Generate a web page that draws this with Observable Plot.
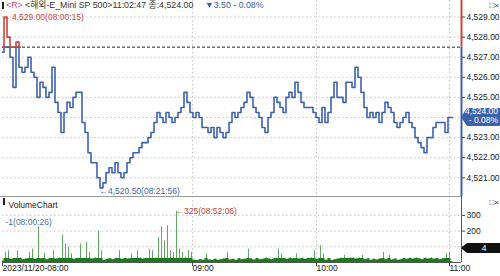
<!DOCTYPE html>
<html><head><meta charset="utf-8">
<script src="https://cdn.jsdelivr.net/npm/d3@7"></script>
<script src="https://cdn.jsdelivr.net/npm/@observablehq/plot@0.6"></script>
<style>
html,body{margin:0;padding:0;background:#fff;}
#wrap{position:relative;width:500px;height:276px;overflow:hidden;background:#fff;font-family:"Liberation Sans","Noto Sans CJK KR",sans-serif;}
#wrap svg{position:absolute;left:0;}
#hdr{position:absolute;top:0;left:2px;font-size:8.8px;line-height:10px;white-space:nowrap;color:#333;z-index:2;}
#chg{position:absolute;top:0;left:205px;font-size:8.8px;line-height:10px;white-space:nowrap;color:#3a5ea8;z-index:2;}
.mk{display:inline-block;width:2px;height:7px;background:#222;margin-right:2px;vertical-align:-1px;}
#sep{position:absolute;left:0;top:196px;width:461px;height:1px;background:#9a9a9a;z-index:2;}
</style></head><body><div id="wrap"></div><script>
// ---- data ----
const prices = [4527.25,4529.0,4528.0,4527.0,4525.5,4527.75,4526.5,4526.25,4526.5,4527.0,
4526.25,4526.0,4525.0,4525.75,4525.5,4525.0,4525.25,4526.5,4524.75,4524.25,
4523.25,4524.25,4524.75,4524.5,4525.0,4525.25,4525.25,4523.75,4523.25,4522.25,
4521.75,4521.75,4521.0,4520.5,4520.75,4521.25,4521.5,4521.25,4521.75,4521.25,
4521.0,4521.25,4521.75,4522.0,4522.25,4522.25,4522.5,4522.75,4522.75,4523.0,
4523.25,4523.75,4524.25,4524.0,4523.75,4524.25,4524.0,4523.75,4524.0,4524.25,
4524.5,4525.25,4524.75,4524.25,4524.0,4524.25,4524.0,4523.5,4523.5,4523.25,
4523.5,4523.0,4523.5,4523.25,4523.0,4523.25,4523.75,4524.25,4524.0,4524.25,
4524.5,4524.75,4525.25,4525.0,4524.5,4524.25,4524.0,4523.5,4523.25,4524.0,
4524.25,4525.0,4524.75,4524.5,4524.25,4525.0,4525.25,4525.0,4525.75,4525.25,
4524.75,4524.5,4524.5,4524.5,4524.25,4524.0,4523.75,4524.5,4523.75,4524.25,
4525.0,4525.75,4525.0,4525.0,4524.75,4525.75,4525.75,4525.5,4526.5,4526.0,
4525.25,4524.5,4524.0,4524.25,4524.0,4524.25,4523.75,4524.25,4524.75,4524.5,
4524.25,4523.75,4523.5,4523.75,4524.0,4524.25,4523.75,4523.5,4523.0,4522.75,
4522.5,4522.25,4523.0,4523.0,4523.5,4523.75,4523.75,4523.75,4523.25,4524.0,
4524.0];
const volumes = [8,64,75,20,25,75,30,18,22,64,
85,20,227,24,60,18,26,75,22,30,
174,117,98,55,20,28,117,25,127,64,
22,30,198,75,12,20,24,18,26,75,
20,28,22,55,25,75,30,22,28,85,
75,30,160,227,138,234,75,64,325,85,
64,35,75,64,15,12,18,14,55,16,
12,20,15,18,22,64,16,20,14,24,
18,20,85,22,16,26,18,20,30,22,
18,28,85,55,26,20,30,24,55,22,
28,20,25,30,75,20,106,55,15,25,
12,18,22,28,45,26,32,30,22,28,
45,18,24,14,20,16,22,64,18,45,
16,22,14,18,26,20,28,22,30,24,
18,28,22,30,20,26,18,24,58,64,
4];
const tickIndex = [0, 63.33, 104.67, 149];
const tickLabels = ["2023/11/20-08:00", "09:00", "10:00", "11:00"];
const priceTicks = [4521, 4522, 4523, 4524, 4525, 4526, 4527, 4528, 4529];
const volumeTicks = [100, 200, 300];
const prevClose = 4527.5;
const lastPrice = 4524.0;
const changeText = "- 0.08%";
const changeAbs = "3.50";
const lastTime = "11:02:47";
const lastVolume = 4;
const symbolName = "해외-E_Mini SP 500";
const maxLabel = "4,529.00(08:00:15)";
const minLabel = "4,520.50(08:21:56)";
const volMaxLabel = "325(08:52:06)";
const volMinLabel = "-1(08:00:26)";

// ---- styles ----
const FONT = '"Liberation Sans","Noto Sans CJK KR",sans-serif';
const BLUE = "#3d62ab", RED = "#c8453c", GREEN = "#62a862", DKGREEN = "#1b7a1b";
const GRID = "#c4c4c4";
const fmt2 = d3.format(",.2f");

const wrap = document.getElementById("wrap");
wrap.innerHTML = `<div id="hdr"><span class="mk"></span><span style="color:#d0506a">&lt;R&gt;</span> &lt;${symbolName}&gt;${lastTime} 종:${fmt2(lastPrice)}</div>
<div id="chg">▼${changeAbs} ${changeText}</div><div id="sep"></div>`;

const priceData = prices.map((p, i) => ({i, p}));
const blueData = priceData.map(d => ({i: d.i, p: Math.min(d.p, prevClose)}));
const redData = priceData.map((d, k) => {
  const near = [k - 1, k, k + 1].some(j => j >= 0 && j < prices.length && prices[j] > prevClose);
  return {i: d.i, p: near ? Math.max(d.p, prevClose) : NaN};
});
let maxK = 0, minK = 0;
prices.forEach((p, k) => { if (p > prices[maxK]) maxK = k; if (p < prices[minK]) minK = k; });
const X_MAX = 153;
const yTop = 4529.82, yBot = 4520.07;

const pricePlot = Plot.plot({
  width: 500, height: 196, marginLeft: 2, marginRight: 39, marginTop: 0, marginBottom: 0,
  x: {domain: [0, X_MAX], axis: null},
  y: {domain: [yBot, yTop], axis: null},
  style: {fontFamily: FONT, fontSize: "8.5px", background: "transparent", overflow: "visible"},
  marks: [
    Plot.ruleY(priceTicks, {stroke: GRID, strokeDasharray: "1.5,2.5"}),
    Plot.ruleX(tickIndex.slice(1), {stroke: GRID, strokeDasharray: "1.5,2.5"}),
    Plot.ruleY([prevClose], {stroke: "#222", strokeDasharray: "3,2"}),
    Plot.line(blueData, {x: "i", y: "p", curve: "step", stroke: BLUE, strokeWidth: 1.6}),
    Plot.line(redData, {x: "i", y: "p", curve: "step", stroke: RED, strokeWidth: 1.6}),
    Plot.ruleX([X_MAX], {y1: prevClose, y2: yTop, stroke: RED, strokeWidth: 2}),
    Plot.ruleX([X_MAX], {y1: yBot, y2: prevClose, stroke: BLUE, strokeWidth: 2}),
    Plot.axisY(priceTicks, {anchor: "right", label: null, tickSize: 3, tickPadding: 2,
      tickFormat: d => d === lastPrice ? "" : fmt2(d), stroke: "#444", fill: "#222"}),
    Plot.text([priceData[maxK]], {x: "i", y: "p", text: () => "←" + maxLabel, textAnchor: "start", dx: -2, fill: RED}),
    Plot.text([priceData[minK]], {x: "i", y: "p", text: () => "←" + minLabel, textAnchor: "start", dx: -2, dy: 3, fill: BLUE})
  ]
});
pricePlot.style.top = "0px";
wrap.appendChild(pricePlot);
{
  const svg = d3.select(pricePlot);
  const yc = pricePlot.scale("y").apply(lastPrice);
  svg.append("path").attr("d", `M461,${yc} L467,${yc - 9} L500,${yc - 9} L500,${yc + 9} L467,${yc + 9} Z`).attr("fill", BLUE);
  svg.append("text").attr("x", 498).attr("y", yc - 3).attr("text-anchor", "end").attr("fill", "#fff").attr("font-size", 8.5).text(fmt2(lastPrice));
  svg.append("text").attr("x", 498).attr("y", yc + 6).attr("text-anchor", "end").attr("fill", "#fff").attr("font-size", 8.5).text(changeText);
  svg.append("text").attr("x", 499).attr("y", 8).attr("text-anchor", "end").attr("fill", "#333").attr("font-size", 8).text("□×");
}

const volData = volumes.map((v, i) => ({i, v}));
const volPlot = Plot.plot({
  width: 500, height: 80, marginLeft: 2, marginRight: 39, marginTop: 0, marginBottom: 14,
  x: {domain: [0, X_MAX], axis: null},
  y: {domain: [0, 420], axis: null},
  style: {fontFamily: FONT, fontSize: "8.5px", background: "transparent", overflow: "visible"},
  marks: [
    Plot.ruleY(volumeTicks, {stroke: GRID, strokeDasharray: "1.5,2.5"}),
    Plot.ruleX(tickIndex.slice(1), {stroke: GRID, strokeDasharray: "1.5,2.5"}),
    Plot.ruleX(volData, {x: "i", y1: 0, y2: "v", stroke: GREEN, strokeWidth: 1}),
    Plot.areaY(volData, {x: "i", y: d => Math.min(d.v, 26), curve: "step", fill: DKGREEN}),
    Plot.ruleY([0], {stroke: "#555"}),
    Plot.ruleX([X_MAX], {stroke: "#555"}),
    Plot.axisY(volumeTicks, {anchor: "right", label: null, tickSize: 3, tickPadding: 2, stroke: "#444", fill: "#222"}),
    Plot.axisX(tickIndex, {anchor: "bottom", label: null, tickSize: 4, tickFormat: () => "", stroke: "#444"}),
    Plot.text(tickIndex, {x: d => d, text: (d, k) => tickLabels[k], frameAnchor: "bottom", textAnchor: "start", lineAnchor: "top", dy: 2, dx: 0, fill: "#222"}),
    Plot.text([volData[volumes.indexOf(d3.max(volumes))]], {x: "i", y: "v", text: () => "←" + volMaxLabel, textAnchor: "start", dx: -1, fill: RED}),
    Plot.text(["VolumeChart"], {frameAnchor: "top-left", text: d => d, dx: 6, dy: 5, fill: "#222"}),
    Plot.text([volMinLabel], {frameAnchor: "top-left", text: d => d, dx: 3, dy: 22, fill: "#4c6fa8"})
  ]
});
volPlot.style.top = "196px";
wrap.appendChild(volPlot);
{
  const svg = d3.select(volPlot);
  const yc = 52;
  svg.append("rect").attr("x", 3).attr("y", 2).attr("width", 2).attr("height", 7).attr("fill", "#222");
  svg.append("path").attr("d", `M461,${yc} L467,${yc - 5} L500,${yc - 5} L500,${yc + 5} L467,${yc + 5} Z`).attr("fill", "#111");
  svg.append("text").attr("x", 484).attr("y", yc + 3).attr("text-anchor", "middle").attr("fill", "#fff").attr("font-size", 8.5).text(lastVolume);
  svg.append("text").attr("x", 499).attr("y", 9).attr("text-anchor", "end").attr("fill", "#333").attr("font-size", 8).text("□×");
}
</script></body></html>
